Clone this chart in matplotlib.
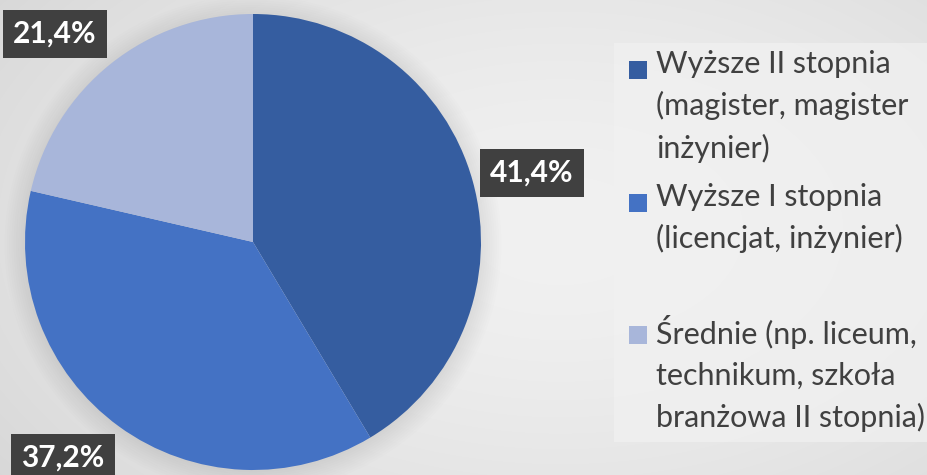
import numpy as np
import matplotlib
matplotlib.use("Agg")
import matplotlib.pyplot as plt
import matplotlib.patches as patches

# shares of respondents by education level
categories = [
    "Wyższe II stopnia\n(magister, magister\ninżynier)",
    "Wyższe I stopnia\n(licencjat, inżynier)",
    "Średnie (np. liceum,\ntechnikum, szkoła\nbranżowa II stopnia)",
]
shares = [41.4, 37.2, 21.4]
colors = ["#355DA0", "#4472C4", "#A8B6DA"]

W, H = 928, 475
fig = plt.figure(figsize=(W / 100, H / 100), dpi=100)

# soft radial grey background
bg = fig.add_axes([0, 0, 1, 1], zorder=-10)
yy, xx = np.mgrid[0:H, 0:W]
dist = np.hypot((xx - 560) / 700, (yy - 230) / 420)
shade = 0.945 - 0.10 * np.clip(dist, 0, 1) ** 1.6
bg.imshow(np.dstack([shade] * 3), extent=[0, W, H, 0], aspect="auto")
bg.set_xlim(0, W)
bg.set_ylim(H, 0)
bg.axis("off")

# legend panel, a touch lighter than the background
bg.add_patch(patches.Rectangle((614, 43), 320, 399, facecolor="#F1F1F1",
                               edgecolor="none", alpha=0.7))

cx, cy, r = 253, 242, 228
ax = fig.add_axes([(cx - r) / W, (H - cy - r) / H, 2 * r / W, 2 * r / H])

# faint blurred drop shadow behind the pie
for k in range(10):
    ax.add_patch(patches.Circle((0.0, -0.01), 1.0 + 0.01 * k, facecolor="black",
                                edgecolor="none", alpha=0.009, zorder=0,
                                clip_on=False))

wedges, _ = ax.pie(shares, colors=colors, startangle=90, counterclock=False,
                   radius=1, wedgeprops=dict(linewidth=0, zorder=2))
ax.set_xlim(-1, 1)
ax.set_ylim(-1, 1)
ax.set_aspect("equal")
ax.axis("off")

# data labels sit outside the pie, placed by hand like the original
label_pos = [(532, 173), (63, 458), (55, 34)]
for val, (px, py) in zip(shares, label_pos):
    txt = f"{val:.1f}%".replace(".", ",")
    fig.text(px / W, 1 - py / H, txt, ha="center", va="center",
             fontsize=21.5, fontweight="bold", color="white", family="Lato",
             bbox=dict(boxstyle="square,pad=0.34", facecolor="#404040", edgecolor="none"))

# legend drawn as squares plus wrapped text
leg_y = [70, 203, 335]
for name, col, ly in zip(categories, colors, leg_y):
    bg.add_patch(patches.Rectangle((629, ly - 9), 18, 18, facecolor=col, edgecolor="none"))
    bg.text(656, ly - 20, name, ha="left", va="top", fontsize=22, color="#404040",
            family="Lato", linespacing=1.55)

fig.savefig("out.png", dpi=100)
